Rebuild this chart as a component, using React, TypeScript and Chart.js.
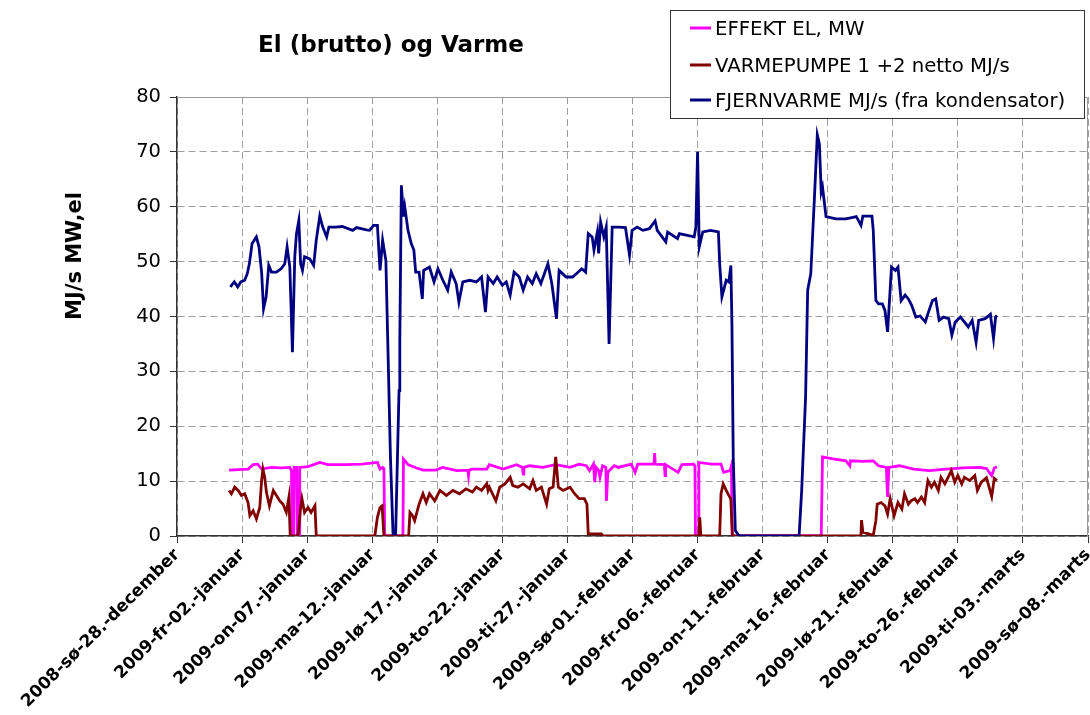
import React, { useEffect, useRef } from "react";
import { Chart, registerables } from "chart.js";

Chart.register(...registerables);

const chartTitle = "El (brutto) og Varme";
const yAxisTitle = "MJ/s MW,el";

const dateLabels = [
  "2008-sø-28.-december",
  "2009-fr-02.-januar",
  "2009-on-07.-januar",
  "2009-ma-12.-januar",
  "2009-lø-17.-januar",
  "2009-to-22.-januar",
  "2009-ti-27.-januar",
  "2009-sø-01.-februar",
  "2009-fr-06.-februar",
  "2009-on-11.-februar",
  "2009-ma-16.-februar",
  "2009-lø-21.-februar",
  "2009-to-26.-februar",
  "2009-ti-03.-marts",
  "2009-sø-08.-marts",
];

const seriesNames = [
  "EFFEKT EL, MW",
  "VARMEPUMPE 1 +2 netto MJ/s",
  "FJERNVARME MJ/s (fra kondensator)",
];
const seriesColors = ["#FF00FF", "#800000", "#000080"];

// days after 2008-12-28
const elDays = [
  4.0, 5.46, 5.85, 6.2, 6.5, 7.25, 8.0, 8.66, 8.8, 8.84, 8.97, 9.0, 9.2, 9.25, 9.38, 9.43,
  10.07, 10.97, 11.6, 12.9, 14.2, 15.4, 15.6, 15.8, 15.9, 15.96, 17.36, 17.4, 17.75, 18.4,
  18.9, 19.9, 20.4, 21.5, 22.35, 22.4, 22.45, 22.7, 23.8, 24.0, 25.05, 26.1, 26.55, 26.6,
  26.65, 27.1, 28.1, 29.1, 30.2, 30.9, 31.45, 31.7, 32.0, 32.1, 32.2, 32.4, 32.5, 32.7,
  32.95, 33.0, 33.1, 33.2, 33.6, 33.9, 34.9, 35.2, 35.4, 36.65, 36.7, 36.75, 37.45, 37.5,
  37.55, 38.5, 38.8, 39.7, 39.8, 39.84, 40.05, 40.1, 41.1, 41.8, 42.0, 42.5, 42.6, 42.66,
  49.5, 49.6, 50.4, 51.4, 51.7, 51.75, 52.7, 53.5, 53.9, 54.5, 54.6, 54.7, 55.5, 56.6,
  57.8, 59.1, 60.4, 61.7, 62.2, 62.6, 62.8, 63.0,
];
const elValues = [
  12.0, 12.2, 13.0, 13.1, 12.2, 12.5, 12.4, 12.5, 11.9, 0, 0, 12.5, 12.5, 0, 0, 12.5,
  12.65, 13.4, 13.0, 13.0, 13.1, 13.4, 12.2, 12.5, 12.3, 0, 0, 14.0, 13.0, 12.4,
  12.0, 12.0, 12.5, 11.9, 12.0, 11.0, 12.0, 12.2, 12.2, 13.0, 12.2, 13.0, 12.5, 11.3,
  12.5, 12.8, 12.5, 13.0, 12.5, 13.1, 12.8, 11.9, 13.1, 9.8, 12.5, 11.9, 10.7, 12.8,
  12.5, 6.4, 11.5, 11.9, 12.8, 12.5, 13.1, 11.6, 13.1, 13.1, 15.1, 13.1, 13.0, 11.0,
  13.0, 11.6, 13.0, 13.1, 12.8, 0, 0, 13.4, 13.1, 13.1, 11.6, 11.9, 12.8, 0,
  0, 14.4, 14.05, 13.7, 12.8, 13.7, 13.6, 13.7, 12.8, 12.5, 7.1, 12.5, 12.8, 12.2,
  11.9, 12.2, 12.4, 12.5, 12.3, 11.0, 12.4, 12.6,
];

const vpDays = [
  4.0, 4.18, 4.44, 4.7, 4.95, 5.2, 5.46, 5.6, 5.85, 6.1, 6.36, 6.5, 6.6, 6.74, 6.87, 7.1,
  7.4, 7.64, 7.9, 8.15, 8.4, 8.6, 8.7, 9.3, 9.5, 9.6, 9.8, 10.07, 10.3, 10.6, 10.7, 15.2,
  15.4, 15.6, 15.76, 15.9, 17.8, 17.9, 18.1, 18.26, 18.6, 18.9, 19.15, 19.4, 19.8, 20.2,
  20.7, 21.2, 21.7, 22.2, 22.7, 23.0, 23.4, 23.8, 23.9, 24.0, 24.5, 24.8, 25.2, 25.6,
  25.8, 26.2, 26.6, 27.1, 27.35, 27.6, 28.0, 28.4, 28.6, 28.9, 29.1, 29.3, 29.66, 30.2,
  30.55, 30.9, 31.3, 31.5, 31.6, 32.6, 32.65, 40.1, 40.17, 40.25, 41.7, 41.8, 41.97, 42.2,
  42.4, 42.55, 42.68, 52.55, 52.6, 52.7, 53.5, 53.7, 53.8, 54.1, 54.4, 54.6, 54.8, 55.1,
  55.4, 55.7, 55.9, 56.2, 56.4, 56.7, 56.9, 57.2, 57.45, 57.7, 57.97, 58.2, 58.5, 58.7,
  59.0, 59.25, 59.5, 59.76, 60.0, 60.3, 60.5, 60.9, 61.3, 61.5, 61.8, 62.2, 62.6, 62.8, 63.0,
];
const vpValues = [
  8.3, 7.7, 8.9, 8.3, 7.4, 7.7, 6.1, 3.7, 4.6, 3.1, 5.2, 10.1, 12.2, 10.7, 8.0, 5.5,
  8.3, 7.4, 6.4, 5.8, 4.3, 7.1, 0, 0, 5.2, 6.8, 4.3, 5.2, 4.3, 5.5, 0, 0,
  3.4, 5.2, 5.5, 0, 0, 4.3, 3.7, 2.8, 5.8, 7.7, 6.1, 7.7, 6.4, 8.3,
  7.4, 8.3, 7.7, 8.6, 8.0, 8.9, 8.3, 9.5, 8.3, 8.9, 6.4, 8.9, 9.5, 10.7,
  9.2, 8.9, 9.5, 8.6, 10.1, 8.3, 8.9, 5.8, 8.6, 8.9, 14.4, 8.9, 8.3, 8.9,
  7.7, 6.8, 6.8, 5.8, 0.4, 0.4, 0, 0, 3.4, 0, 0, 7.7, 9.5, 8.3,
  7.4, 6.8, 0, 0, 2.9, 0.7, 0.1, 2.8, 5.8, 6.1, 5.5, 4.0, 6.8, 3.7,
  6.1, 4.9, 7.7, 5.8, 6.4, 6.8, 6.1, 7.1, 6.1, 10.1, 8.9, 9.8, 8.3, 10.7,
  9.5, 10.7, 11.9, 9.8, 11.0, 9.5, 10.7, 10.1, 11.0, 8.3, 9.8, 10.6, 7.2, 10.5, 10.1,
];

const fvDays = [
  4.1, 4.4, 4.67, 4.9, 5.2, 5.4, 5.56, 5.77, 6.1, 6.3, 6.5, 6.65, 6.85, 7.05, 7.26, 7.64,
  8.0, 8.28, 8.46, 8.67, 8.87, 9.05, 9.18, 9.36, 9.5, 9.64, 9.8, 10.2, 10.5, 10.7, 10.97,
  11.2, 11.5, 11.67, 12.2, 12.7, 13.5, 13.8, 14.56, 14.8, 15.1, 15.4, 15.6, 15.8, 16.05,
  16.2, 16.4, 16.6, 16.8, 17.06, 17.12, 17.24, 17.4, 17.5, 17.75, 18.0, 18.2, 18.34, 18.6,
  18.85, 18.95, 19.4, 19.75, 20.05, 20.43, 20.8, 21.07, 21.45, 21.66, 21.96, 22.5, 23.0,
  23.4, 23.7, 23.9, 24.3, 24.6, 25.0, 25.3, 25.6, 25.9, 26.3, 26.6, 26.94, 27.3, 27.6,
  27.96, 28.5, 28.8, 29.16, 29.36, 29.9, 30.4, 31.1, 31.4, 31.6, 31.9, 32.04, 32.3, 32.4,
  32.55, 32.8, 32.98, 33.2, 33.44, 33.95, 34.46, 34.77, 34.97, 35.36, 35.8, 36.3, 36.74,
  36.9, 37.56, 37.7, 38.46, 38.6, 39.74, 39.87, 40.0, 40.13, 40.4, 41.0, 41.6, 41.7, 41.87,
  42.2, 42.4, 42.56, 42.64, 42.74, 42.9, 43.2, 47.8, 48.0, 48.3, 48.46, 48.7, 48.97, 49.2,
  49.36, 49.5, 49.6, 49.87, 50.64, 51.4, 52.2, 52.56, 52.7, 53.4, 53.5, 53.7, 53.9, 54.2,
  54.4, 54.6, 54.7, 54.9, 55.2, 55.4, 55.64, 55.95, 56.2, 56.46, 56.77, 57.1, 57.5, 57.74,
  58.05, 58.3, 58.56, 58.9, 59.3, 59.54, 59.8, 60.2, 60.5, 60.8, 61.1, 61.4, 61.6, 62.1,
  62.5, 62.74, 62.9, 63.0,
];
const fvValues = [
  45.4, 46.3, 45.4, 46.3, 46.6, 47.8, 49.6, 53.3, 54.5, 52.7, 48.1, 41.4, 43.6, 49.3, 48.1, 48.1,
  48.7, 49.6, 52.7, 49.0, 33.5, 50.9, 55.1, 57.5, 49.6, 48.4, 50.9, 50.5, 49.3, 53.9, 58.3,
  56.3, 54.5, 56.3, 56.3, 56.4, 55.7, 56.2, 55.8, 55.7, 56.6, 56.6, 48.4, 53.9, 50.2,
  35.0, 14.4, 0.4, 0.4, 26.5, 35.6, 63.9, 58.2, 60.0, 55.7, 53.3, 52.1, 48.1, 48.1,
  43.2, 48.4, 49.0, 46.3, 48.7, 46.6, 44.8, 48.1, 46.0, 42.6, 46.3, 46.6, 46.3,
  47.2, 40.8, 47.2, 46.0, 47.2, 45.7, 46.3, 43.9, 48.1, 47.2, 44.8, 47.2, 46.0, 47.8,
  46.0, 49.6, 46.0, 39.6, 48.4, 47.2, 47.2, 48.7, 48.1, 55.1, 54.5, 52.1, 55.4, 51.5,
  57.2, 54.5, 56.3, 35.0, 56.3, 56.3, 56.2, 51.2, 55.7, 56.3, 55.7, 56.0, 57.4,
  55.7, 53.6, 55.4, 54.2, 55.1, 54.5, 56.3, 70.0, 52.7, 55.4, 55.7, 55.4, 49.6, 43.6,
  46.6, 46.3, 49.3, 38.7, 14.4, 1.0, 0, 0, 8.3, 25.3, 44.8, 47.8, 61.2, 73.1,
  71.5, 62.7, 63.6, 58.2, 57.8, 57.8, 58.2, 56.6, 58.3, 58.3, 55.7, 42.9, 42.3, 42.3,
  41.1, 37.2, 41.1, 49.0, 48.4, 49.0, 42.9, 43.9, 43.2, 42.0, 39.9, 40.1, 39.0, 40.8,
  42.9, 43.2, 39.3, 39.9, 39.6, 36.6, 39.0, 39.9, 39.0, 38.1, 39.3, 35.3, 39.3, 39.6,
  40.4, 36.0, 39.9, 40.2,
];

const FONT = '"DejaVu Sans", Verdana, sans-serif';

function toPoints(xs: number[], ys: number[]) {
  return xs.map((x, i) => ({ x, y: ys[i] }));
}

const decorations = {
  id: "decorations",
  afterDraw(chart: any) {
    const ctx = chart.ctx as CanvasRenderingContext2D;
    const a = chart.chartArea;
    ctx.save();
    // plot area border (top, right)
    ctx.strokeStyle = "#9a9a9a";
    ctx.lineWidth = 1;
    ctx.setLineDash([]);
    ctx.beginPath();
    ctx.moveTo(a.left, Math.round(a.top) + 0.5);
    ctx.lineTo(Math.round(a.right) - 0.5, Math.round(a.top) + 0.5);
    ctx.lineTo(Math.round(a.right) - 0.5, a.bottom);
    ctx.stroke();

    // title
    ctx.fillStyle = "#000";
    ctx.font = `bold 23px ${FONT}`;
    ctx.textAlign = "center";
    ctx.textBaseline = "middle";
    ctx.fillText(chartTitle, 391, 46);

    // y title
    ctx.save();
    ctx.translate(76, 256);
    ctx.rotate(-Math.PI / 2);
    ctx.font = `bold 21px ${FONT}`;
    ctx.fillText(yAxisTitle, 0, 0);
    ctx.restore();

    // legend box
    ctx.fillStyle = "#fff";
    ctx.fillRect(670, 10, 414, 108);
    ctx.strokeStyle = "#333";
    ctx.lineWidth = 1;
    ctx.strokeRect(670.5, 10.5, 414, 108);
    const rows = [29, 66, 101];
    ctx.font = `19.7px ${FONT}`;
    ctx.textAlign = "left";
    ctx.textBaseline = "middle";
    rows.forEach((ry, i) => {
      ctx.strokeStyle = seriesColors[i];
      ctx.lineWidth = 3;
      ctx.beginPath();
      ctx.moveTo(690, ry - 1);
      ctx.lineTo(711, ry - 1);
      ctx.stroke();
      ctx.fillStyle = "#000";
      ctx.fillText(seriesNames[i], 715, ry + 1);
    });
    ctx.restore();
  },
};

export default function App() {
  const ref = useRef<HTMLCanvasElement | null>(null);
  useEffect(() => {
    if (!ref.current) return;
    const lineCommon = { borderWidth: 2.8, pointRadius: 0, tension: 0 };
    const chart = new Chart(ref.current, {
      type: "line",
      data: {
        datasets: [
          {
            label: seriesNames[2],
            data: toPoints(fvDays, fvValues),
            borderColor: seriesColors[2],
            backgroundColor: seriesColors[2],
            order: 0,
            ...lineCommon,
          },
          {
            label: seriesNames[1],
            data: toPoints(vpDays, vpValues),
            borderColor: seriesColors[1],
            backgroundColor: seriesColors[1],
            order: 1,
            ...lineCommon,
          },
          {
            label: seriesNames[0],
            data: toPoints(elDays, elValues),
            borderColor: seriesColors[0],
            backgroundColor: seriesColors[0],
            order: 2,
            ...lineCommon,
          },
        ],
      },
      options: {
        responsive: false,
        animation: false,
        events: [],
        layout: { padding: { top: 97, right: 2, left: 0, bottom: 0 } },
        plugins: {
          legend: { display: false },
          title: { display: false },
          tooltip: { enabled: false },
        },
        scales: {
          x: {
            type: "linear",
            min: 0,
            max: 70,
            afterBuildTicks: (s: any) => {
              s.ticks = dateLabels.map((_, i) => ({ value: i * 5 }));
            },
            afterFit: (s: any) => {
              s.height = 179;
              s.paddingLeft = 0;
              s.paddingRight = 0;
            },
            ticks: {
              autoSkip: false,
              minRotation: 45,
              maxRotation: 45,
              padding: 2,
              color: "#000",
              font: { family: FONT, size: 17, weight: "bold" },
              callback: (_v: any, i: number) => dateLabels[i],
            },
            grid: {
              color: "#a0a0a0",
              lineWidth: 1,
              tickLength: 7,
              tickColor: "#333",
              tickBorderDash: [],
            },
            border: { color: "#333", width: 1.5, dash: [7, 4] },
          },
          y: {
            min: 0,
            max: 80,
            afterFit: (s: any) => {
              s.width = 177;
              s.paddingTop = 0;
              s.paddingBottom = 0;
            },
            ticks: {
              stepSize: 10,
              padding: 9,
              color: "#000",
              font: { family: FONT, size: 19.5 },
            },
            grid: {
              color: "#a0a0a0",
              lineWidth: 1,
              tickLength: 7,
              tickColor: "#333",
              tickBorderDash: [],
            },
            border: { color: "#333", width: 1.5, dash: [7, 4] },
          },
        },
      },
      plugins: [decorations],
    } as any);
    return () => chart.destroy();
  }, []);

  return (
    <div style={{ position: "absolute", left: 0, top: 0, width: 1090, height: 715, background: "#fff" }}>
      <canvas ref={ref} width={1090} height={715} />
    </div>
  );
}
